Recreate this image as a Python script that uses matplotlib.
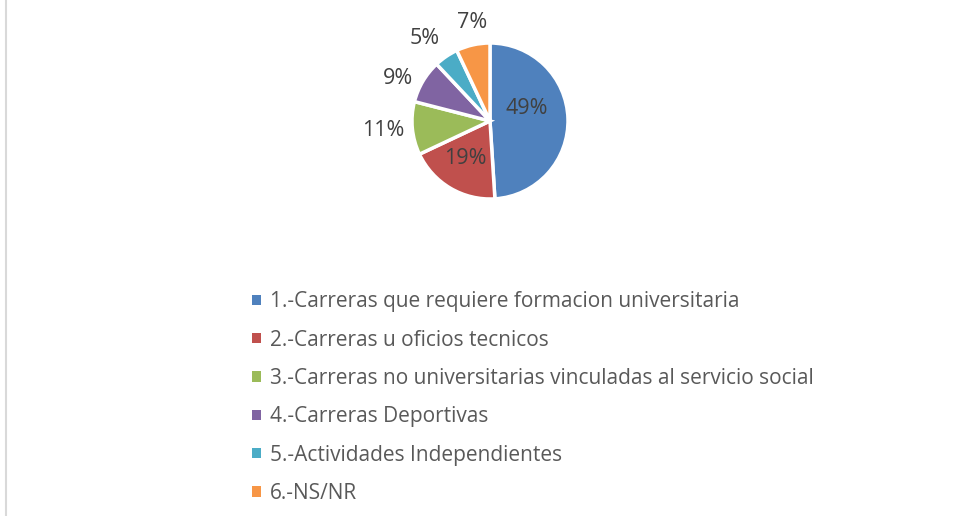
import matplotlib
matplotlib.use("Agg")
import matplotlib.pyplot as plt

# data
categories = [
    "1.-Carreras que requiere formacion universitaria",
    "2.-Carreras u oficios tecnicos",
    "3.-Carreras no universitarias vinculadas al servicio social",
    "4.-Carreras Deportivas",
    "5.-Actividades Independientes",
    "6.-NS/NR",
]
values = [49, 19, 11, 9, 5, 7]
pct_labels = ["49%", "19%", "11%", "9%", "5%", "7%"]
colors = ["#4F81BD", "#C0504D", "#9BBB59", "#8064A2", "#4BACC6", "#F79646"]

W, H = 961, 516
plt.rcParams['font.family'] = ['Open Sans', 'DejaVu Sans']

fig = plt.figure(figsize=(W / 100, H / 100), dpi=100)
ax = fig.add_axes([0, 0, 1, 1])

# thin grey frame line on the left edge
ax.plot([6, 6], [0, H], color="#D9D9D9", lw=1.5)

cx, cy, r = 490, H - 121, 78
wedges, _ = ax.pie(values, colors=colors, startangle=90, counterclock=False,
                   center=(cx, cy), radius=r, frame=True,
                   wedgeprops=dict(edgecolor="white", linewidth=2.5))
ax.set_xlim(0, W)
ax.set_ylim(0, H)
ax.set_aspect("equal")
ax.axis("off")

# label positions (pixels from top-left)
label_pos = [(527, 108), (465, 159), (383, 131), (398, 78), (425, 38), (472, 22)]
for txt, (x, y) in zip(pct_labels, label_pos):
    ax.text(x, H - y, txt, ha="center", va="center", fontsize=15.5, color="#404040")

leg = fig.legend(wedges, categories, loc="upper left",
                 bbox_to_anchor=(244 / W, 1 - 283 / H), frameon=False,
                 fontsize=15, labelcolor="#595959",
                 handlelength=0.4, handleheight=0.4, handletextpad=0.45,
                 labelspacing=0.83, borderaxespad=0)
for h in leg.legend_handles:
    h.set_edgecolor("none")

fig.savefig("out.png", dpi=100)
